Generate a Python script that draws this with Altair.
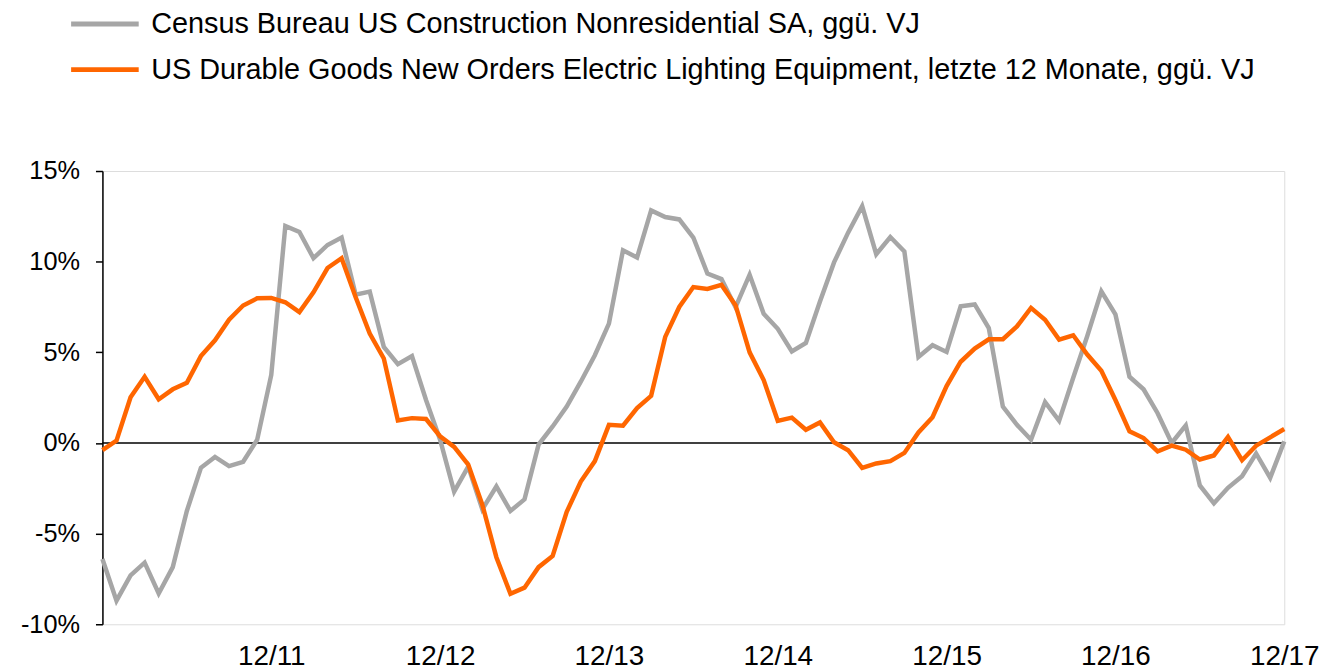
import json
import altair as alt
import pandas as pd

SERIES_NAMES = [
    "Census Bureau US Construction Nonresidential SA, ggü. VJ",
    "US Durable Goods New Orders Electric Lighting Equipment, letzte 12 Monate, ggü. VJ",
]
SERIES_COLORS = ["#A6A6A6", "#FF6600"]

# monthly, Dec 2010 .. Dec 2017 (85 months)
MONTHS = [f"{y}-{m:02d}" for y in range(2010, 2018) for m in range(1, 13)][11:96]

CONSTRUCTION = [
    -6.4, -8.7, -7.3, -6.6, -8.3, -6.85, -3.75, -1.37, -0.77, -1.28,
    -1.04, 0.18, 3.75, 11.97, 11.64, 10.19, 10.92, 11.33, 8.18, 8.35,
    5.30, 4.35, 4.79, 2.37, 0.18, -2.68, -1.3, -3.66, -2.4, -3.75,
    -3.11, -0.09, 0.91, 2.01, 3.38, 4.84, 6.58, 10.63, 10.23, 12.83,
    12.46, 12.33, 11.33, 9.35, 9.04, 7.49, 9.28, 7.13, 6.3, 5.05,
    5.52, 7.8, 9.96, 11.6, 13.06, 10.41, 11.36, 10.56, 4.75, 5.39,
    5.02, 7.54, 7.64, 6.34, 2.01, 1.0, 0.18, 2.25, 1.22, 3.6,
    5.9, 8.36, 7.09, 3.65, 2.96, 1.64, 0.0, 0.97, -2.34, -3.33,
    -2.47, -1.83, -0.58, -1.92, 0.09,
]

LIGHTING = [
    -0.40, 0.13, 2.52, 3.65, 2.41, 2.96, 3.32, 4.79, 5.66, 6.80,
    7.58, 7.98, 8.00, 7.76, 7.22, 8.31, 9.65, 10.19, 8.04, 6.03,
    4.66, 1.24, 1.37, 1.32, 0.37, -0.22, -1.19, -3.4, -6.3, -8.32,
    -7.98, -6.85, -6.23, -3.8, -2.13, -1.0, 1.0, 0.95, 1.92, 2.6,
    5.85, 7.5, 8.6, 8.5, 8.72, 7.6, 5.0, 3.47, 1.22, 1.4,
    0.73, 1.13, 0.04, -0.40, -1.37, -1.13, -1.0, -0.55, 0.58, 1.42,
    3.14, 4.48, 5.21, 5.72, 5.72, 6.43, 7.45, 6.80, 5.70, 5.94,
    4.88, 3.98, 2.37, 0.64, 0.27, -0.46, -0.15, -0.37, -0.91, -0.69,
    0.33, -0.95, -0.15, 0.31, 0.77,
]

TICK_LABELS = ["12/11", "12/12", "12/13", "12/14", "12/15", "12/16", "12/17"]
Y_TICKS = [-10, -5, 0, 5, 10, 15]

FONT = "Liberation Sans"

rows = []
for name, vals in zip(SERIES_NAMES, [CONSTRUCTION, LIGHTING]):
    for i, (m, v) in enumerate(zip(MONTHS, vals)):
        rows.append({"idx": i, "month": m, "value": v, "series": name})
df = pd.DataFrame(rows)

tick_idx = [MONTHS.index(f"20{t[3:]}-12") for t in TICK_LABELS]
label_expr = "{}[indexof({}, datum.value)]".format(json.dumps(TICK_LABELS), json.dumps(tick_idx))

x_enc = alt.X(
    "idx:Q",
    scale=alt.Scale(domain=[0, len(MONTHS) - 1], nice=False, zero=False),
    axis=alt.Axis(
        values=tick_idx,
        labelExpr=label_expr,
        title=None,
        domain=False,
        ticks=False,
        grid=False,
        labelFont=FONT,
        labelFontSize=28,
        labelColor="#000000",
        labelPadding=18,
        labelFlush=False,
        labelOverlap=False,
    ),
)
y_enc = alt.Y(
    "value:Q",
    scale=alt.Scale(domain=[-10, 15], nice=False, zero=False),
    axis=alt.Axis(
        values=Y_TICKS,
        labelExpr="datum.value + '%'",
        title=None,
        grid=False,
        domain=True,
        domainColor="#000000",
        domainWidth=1.5,
        ticks=True,
        tickColor="#000000",
        tickWidth=1.5,
        tickSize=7,
        labelFont=FONT,
        labelFontSize=25.5,
        labelColor="#000000",
        labelPadding=16,
    ),
)

zero_df = pd.DataFrame({"value": [0]})
zero_line = alt.Chart(zero_df).mark_rule(color="#000000", strokeWidth=1.5).encode(
    y=alt.Y("value:Q", scale=alt.Scale(domain=[-10, 15], nice=False, zero=False))
)

lines = alt.Chart(df).mark_line(strokeWidth=4.5, strokeJoin="miter", strokeCap="butt").encode(
    x=x_enc,
    y=y_enc,
    color=alt.Color(
        "series:N",
        scale=alt.Scale(domain=SERIES_NAMES, range=SERIES_COLORS),
        legend=alt.Legend(
            title=None,
            orient="none",
            legendX=-34,
            legendY=-171,
            direction="vertical",
            symbolType="stroke",
            symbolSize=4624,
            symbolStrokeWidth=5,
            labelFont=FONT,
            labelFontSize=29,
            labelColor="#000000",
            labelLimit=2000,
            labelOffset=10,
            clipHeight=46,
            rowPadding=0,
            padding=0,
        ),
    ),
    order=alt.Order("idx:Q"),
)

chart = (
    alt.layer(zero_line, lines)
    .properties(
        width=1189,
        height=456,
        autosize=alt.AutoSizeParams(type="none"),
        padding={"left": 95, "top": 162, "right": 42, "bottom": 44},
    )
    .configure_view(stroke=None)
    .configure(background="#ffffff")
)

chart.save("out.html", embed_options={"renderer": "svg", "actions": False})
